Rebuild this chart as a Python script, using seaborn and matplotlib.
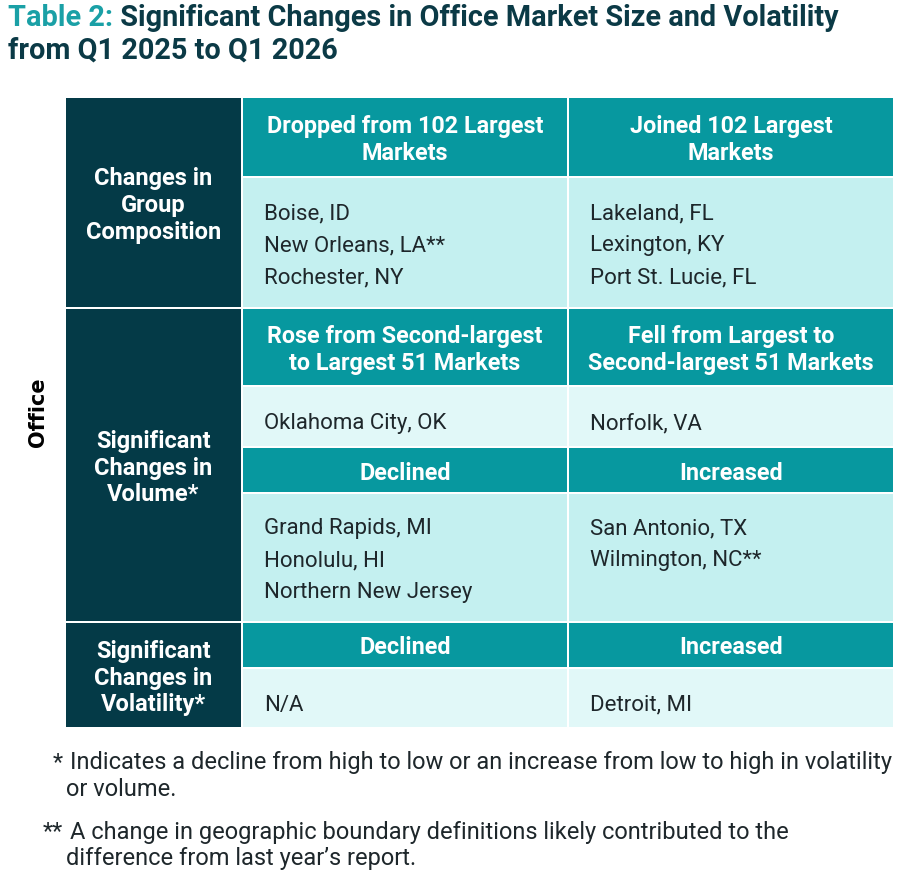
import matplotlib.pyplot as plt
import seaborn as sns
import numpy as np

# ---- table content ----
group_labels = ["Changes in\nGroup\nComposition",
                "Significant\nChanges in\nVolume*",
                "Significant\nChanges in\nVolatility*"]
side_label = "Office"

left_cells = ["Dropped from 102 Largest\nMarkets",
              ["Boise, ID", "New Orleans, LA**", "Rochester, NY"],
              "Rose from Second-largest\nto Largest 51 Markets",
              ["Oklahoma City, OK"],
              "Declined",
              ["Grand Rapids, MI", "Honolulu, HI", "Northern New Jersey"],
              "Declined",
              ["N/A"]]
right_cells = ["Joined 102 Largest\nMarkets",
               ["Lakeland, FL", "Lexington, KY", "Port St. Lucie, FL"],
               "Fell from Largest to\nSecond-largest 51 Markets",
               ["Norfolk, VA"],
               "Increased",
               ["San Antonio, TX", "Wilmington, NC**"],
               "Increased",
               ["Detroit, MI"]]
row_kind = ["head", "body", "head", "light", "head", "body", "head", "light"]
group_rows = [(0, 2), (2, 6), (6, 8)]

title_a = "Table 2:"
title_b = " Significant Changes in Office Market Size and Volatility"
title_c = "from Q1 2025 to Q1 2026"
note_marks = ["*", "**"]
note_lines = [["Indicates a decline from high to low or an increase from low to high in volatility",
               "or volume."],
              ["A change in geographic boundary definitions likely contributed to the",
               "difference from last year\u2019s report."]]

# ---- layout (pixels) ----
row_h = [78, 129, 76, 59, 44, 127, 44, 58]
gap = 2
top = 98
col_x = [66, 243, 569]
col_w = [175, 324, 324]
note_y = [763, 832]

DARK = "#043A47"
TEAL = "#07989F"
BODY = "#C4F0F0"
LIGHT = "#E1F8F8"
TXT = "#1E272B"
fill = {"head": TEAL, "body": BODY, "light": LIGHT}

sns.set_theme(style="white")
plt.rcParams['font.family'] = ['Roboto', 'DejaVu Sans']

fig = plt.figure(figsize=(9, 8.74), dpi=100)
ax = fig.add_axes([0, 0, 1, 1])
ax.set_xlim(0, 900)
ax.set_ylim(874, 0)
ax.axis('off')

tops = top + np.concatenate([[0], np.cumsum(np.array(row_h) + gap)[:-1]])

# data cells
for i, kind in enumerate(row_kind):
    y0, h = tops[i], row_h[i]
    for c, cell in ((1, left_cells[i]), (2, right_cells[i])):
        ax.bar(col_x[c], h, width=col_w[c], bottom=y0, align='edge',
               color=fill[kind], linewidth=0)
        if kind == "head":
            ax.text(col_x[c] + col_w[c] / 2, y0 + h / 2 + 3, cell,
                    ha='center', va='center', color='white',
                    fontsize=16.8, fontweight='bold', linespacing=1.27)
        else:
            n = len(cell)
            off = 3 if kind == "body" else 7
            for k, line in enumerate(cell):
                yy = y0 + h / 2 + off + (k - (n - 1) / 2) * 32
                if kind == "body" and n == 2:
                    yy = y0 + h / 2 + off + (k - 1) * 32
                ax.text(col_x[c] + 21, yy, line, ha='left', va='center',
                        color=TXT, fontsize=16)

# group label cells
for (r0, r1), lab in zip(group_rows, group_labels):
    y0 = tops[r0]
    y1 = tops[r1 - 1] + row_h[r1 - 1]
    ax.bar(col_x[0], y1 - y0, width=col_w[0], bottom=y0, align='edge',
           color=DARK, linewidth=0)
    ax.text(col_x[0] + col_w[0] / 2, (y0 + y1) / 2 + 3, lab, ha='center',
            va='center', color='white', fontsize=17, fontweight='bold',
            linespacing=1.22)

ax.text(38, 412, side_label, rotation=90, ha='center', va='center',
        color='black', fontsize=15, fontweight='bold',
        family=['DejaVu Sans'])

# title
t1 = ax.text(8, 18, title_a, ha='left', va='center', color="#1AA0A6",
             fontsize=20.8, fontweight='bold')
ax.annotate(title_b, xy=(1, 0), xycoords=t1, ha='left', va='bottom',
            color="#0B3A46", fontsize=20.8, fontweight='bold')
ax.text(8, 51, title_c, ha='left', va='center', color="#0B3A46",
        fontsize=20.8, fontweight='bold')

# footnotes
for y, mark, lines in zip(note_y, note_marks, note_lines):
    ax.text(63, y, mark, ha='right', va='center', color=TXT, fontsize=17)
    ax.text(70, y, lines[0], ha='left', va='center', color=TXT, fontsize=17)
    ax.text(66, y + 27, lines[1], ha='left', va='center', color=TXT,
            fontsize=17)

fig.savefig("out.png", dpi=100, facecolor='white')
